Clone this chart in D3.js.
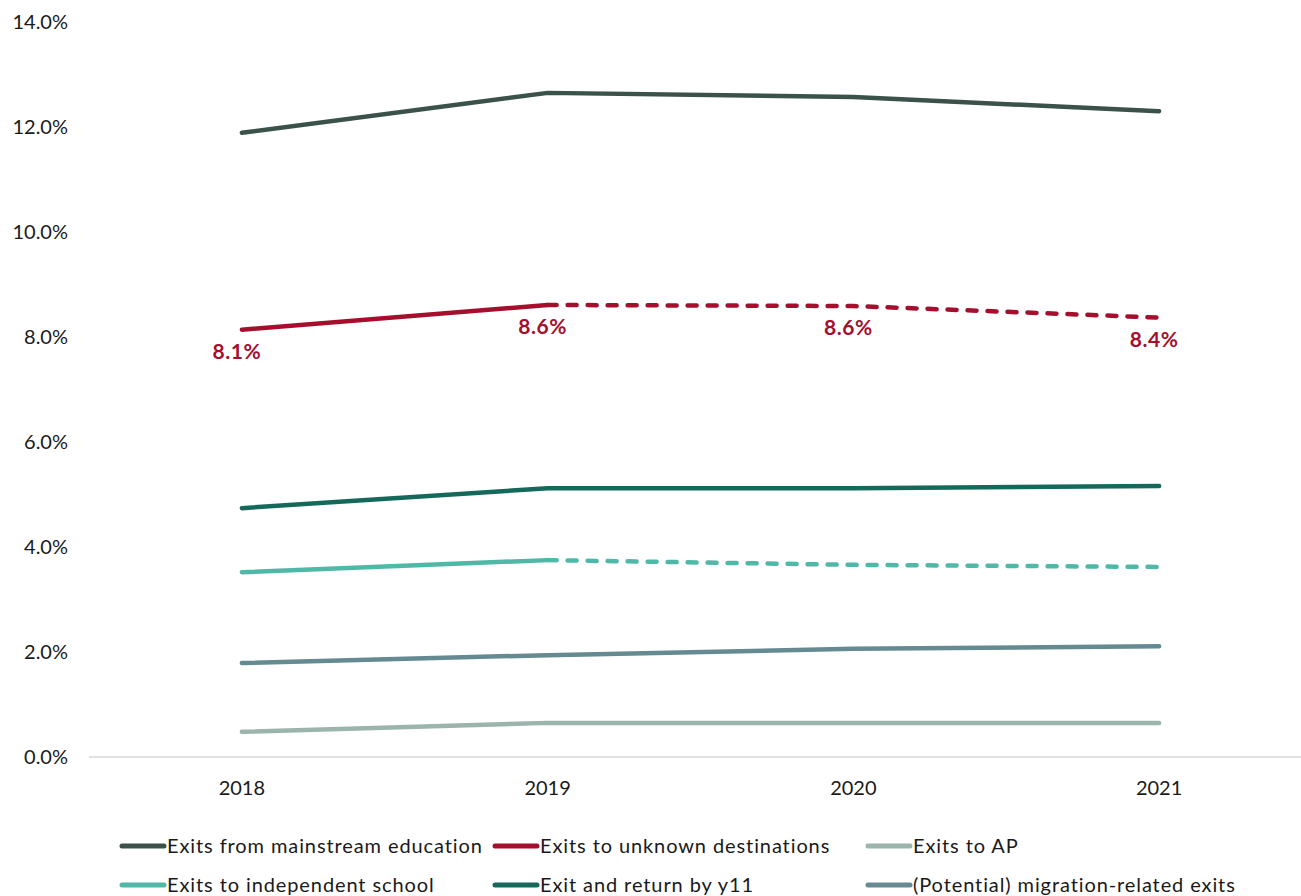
<!DOCTYPE html>
<html><head><meta charset="utf-8">
<script src="https://cdn.jsdelivr.net/npm/d3@7"></script>
<style>
html,body{margin:0;padding:0;background:#fff;}
svg{display:block;font-family:Lato, "Open Sans", sans-serif;}
</style></head>
<body><svg id="c" width="1301" height="896"></svg>
<script>
const years = ["2018","2019","2020","2021"];
const yTicks = [0,2,4,6,8,10,12,14];
const seriesNames = ["Exits from mainstream education","Exits to unknown destinations","Exits to AP","Exits to independent school","Exit and return by y11","(Potential) migration-related exits"];
const seriesColors = ["#3a5249","#a50f2d","#9bb5ac","#4fb8a6","#15695a","#658a92"];
const mainstream = [11.89, 12.65, 12.57, 12.30];
const unknown = [8.14, 8.61, 8.59, 8.37];
const ap = [0.48, 0.65, 0.65, 0.65];
const independent = [3.52, 3.75, 3.66, 3.62];
const exitReturn = [4.74, 5.12, 5.12, 5.16];
const migration = [1.79, 1.94, 2.06, 2.11];
const unknownLabels = ["8.1%","8.6%","8.6%","8.4%"];
const dashedFrom = [null, 1, null, 1, null, null]; // index where dashed segment starts

const seriesValues = [mainstream, unknown, ap, independent, exitReturn, migration];
const drawOrder = [2,5,3,4,1,0];

const svg = d3.select("#c");
const x = d3.scalePoint().domain(years).range([89,1312]).padding(0.5);
const y = d3.scaleLinear().domain([0,14]).range([757,22]);

// baseline axis
svg.append("line").attr("x1",89).attr("x2",1301).attr("y1",y(0)).attr("y2",y(0))
  .attr("stroke","#d9d9d9").attr("stroke-width",1.5);

// y tick labels
svg.append("g").selectAll("text").data(yTicks).join("text")
  .attr("x",68).attr("y",d=>y(d)).attr("dy","0.35em").attr("text-anchor","end")
  .attr("font-size",20).attr("fill","#1a1a1a").text(d=>d.toFixed(1)+"%");

// x tick labels
svg.append("g").selectAll("text").data(years).join("text")
  .attr("x",d=>x(d)).attr("y",795).attr("text-anchor","middle")
  .attr("font-size",20).attr("fill","#1a1a1a").text(d=>d);

const line = d3.line().x(d=>x(d.year)).y(d=>y(d.v));

drawOrder.forEach(i=>{
  const pts = years.map((yr,k)=>({year:yr, v:seriesValues[i][k]}));
  const g = svg.append("g");
  const df = dashedFrom[i];
  const solidPts = df==null ? pts : pts.slice(0, df+1);
  g.append("path").attr("d", line(solidPts)).attr("fill","none")
    .attr("stroke", seriesColors[i]).attr("stroke-width",4.5)
    .attr("stroke-linecap","round").attr("stroke-linejoin","round");
  if (df!=null) {
    g.append("path").attr("d", line(pts.slice(df))).attr("fill","none")
      .attr("stroke", seriesColors[i]).attr("stroke-width",4.5)
      .attr("stroke-dasharray","9,11")
      .attr("stroke-linecap","round").attr("stroke-linejoin","round");
  }
});

// data labels for unknown destinations
svg.append("g").selectAll("text").data(years).join("text")
  .attr("x",d=>x(d)-5).attr("y",(d,k)=>y(unknown[k])+29).attr("text-anchor","middle")
  .attr("font-size",21).attr("font-weight","bold").attr("letter-spacing","0.6px").attr("fill","#a50f2d")
  .text((d,k)=>unknownLabels[k]);

// legend
const legend = svg.append("g");
seriesNames.forEach((name,i)=>{
  const col = i%3, row = Math.floor(i/3);
  const lx = 120 + col*373, ly = 846 + row*39;
  legend.append("line").attr("x1",lx+2).attr("x2",lx+44).attr("y1",ly).attr("y2",ly)
    .attr("stroke",seriesColors[i]).attr("stroke-width",5).attr("stroke-linecap","round");
  legend.append("text").attr("x",lx+47).attr("y",ly).attr("dy","0.35em")
    .attr("font-size",20).attr("letter-spacing","0.9px").attr("fill","#1a1a1a").text(name);
});
</script></body></html>
